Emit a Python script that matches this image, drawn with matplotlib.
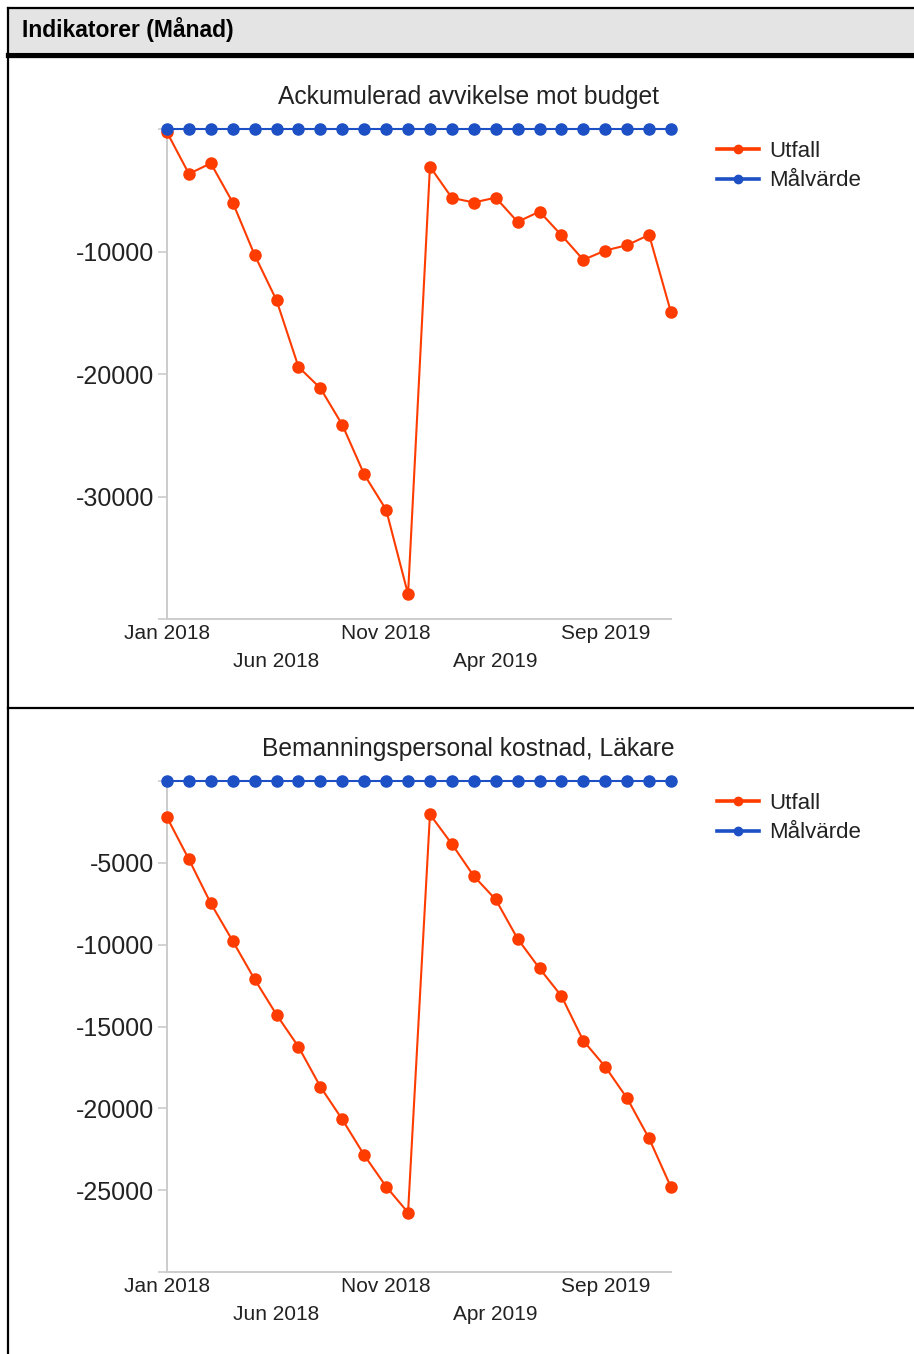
import matplotlib
matplotlib.use('Agg')
import matplotlib.pyplot as plt
from matplotlib.lines import Line2D
from matplotlib.patches import Rectangle

plt.rcParams['font.family'] = ['Liberation Sans', 'DejaVu Sans']

W, H = 914, 1354
RED = '#ff3c00'
BLUE = '#1c50c4'
TEXT = '#222222'
AXIS = '#cccccc'

# months Jan 2018 .. Dec 2019
month_idx = list(range(24))
tick_pos_row1 = [0, 10, 20]
tick_lab_row1 = ['Jan 2018', 'Nov 2018', 'Sep 2019']
tick_pos_row2 = [5, 15]
tick_lab_row2 = ['Jun 2018', 'Apr 2019']

title_budget = 'Ackumulerad avvikelse mot budget'
utfall_budget = [-270, -3660, -2800, -6000, -10290, -13990, -19420, -21160,
                 -24150, -28200, -31080, -37980, -3070, -5620, -6000, -5600,
                 -7580, -6740, -8670, -10680, -9920, -9480, -8640, -14970]
malvarde_budget = [0, 0, 0, 0, 0, 0, 0, 0, 0, 0, 0, 0,
                   0, 0, 0, 0, 0, 0, 0, 0, 0, 0, 0, 0]
yticks_budget = [0, -10000, -20000, -30000, -40000]

title_lakare = 'Bemanningspersonal kostnad, Läkare'
utfall_lakare = [-2220, -4790, -7480, -9780, -12120, -14280, -16240, -18680,
                 -20680, -22860, -24780, -26370, -2040, -3850, -5810, -7240,
                 -9640, -11450, -13140, -15870, -17460, -19390, -21840, -24820]
malvarde_lakare = [0, 0, 0, 0, 0, 0, 0, 0, 0, 0, 0, 0,
                   0, 0, 0, 0, 0, 0, 0, 0, 0, 0, 0, 0]
yticks_lakare = [0, -5000, -10000, -15000, -20000, -25000, -30000]


def fx(px):
    return px / W


def fy(py):
    return 1 - py / H


def draw_chart(fig, top, bottom, title, utfall, malvarde, yticks):
    ax = fig.add_axes([fx(167), fy(bottom), fx(671) - fx(167), fy(top) - fy(bottom)])
    ax.plot(month_idx, utfall, color=RED, lw=1.5, marker='o', ms=8,
            clip_on=False, zorder=3, label='Utfall')
    ax.plot(month_idx, malvarde, color=BLUE, lw=1.5, marker='o', ms=8,
            clip_on=False, zorder=4, label='Målvärde')
    ax.set_xlim(0, 23)
    ax.set_ylim(yticks[-1], 0)

    for s in ['top', 'right']:
        ax.spines[s].set_visible(False)
    for s in ['left', 'bottom']:
        ax.spines[s].set_color(AXIS)
        ax.spines[s].set_linewidth(1.4)

    # first and last y tick carry no label
    ax.set_yticks(yticks)
    ax.set_yticklabels([''] + [str(v) for v in yticks[1:-1]] + [''])
    ax.tick_params(axis='y', length=6.5, width=1.2, color=AXIS, pad=3,
                   labelsize=18, labelcolor=TEXT)

    # staggered month labels in two rows
    ax.set_xticks(tick_pos_row1)
    ax.set_xticklabels(tick_lab_row1)
    ax.set_xticks(tick_pos_row2, minor=True)
    ax.set_xticklabels(tick_lab_row2, minor=True)
    ax.tick_params(axis='x', which='major', length=0, pad=3.5,
                   labelsize=15, labelcolor=TEXT)
    ax.tick_params(axis='x', which='minor', length=0, pad=23.5,
                   labelsize=15, labelcolor=TEXT)

    fig.text(fx(468), fy(top - 32), title, ha='center', va='center',
             fontsize=17.7, color=TEXT)

    handles = [Line2D([], [], color=RED, lw=2.6, marker='o', ms=6),
               Line2D([], [], color=BLUE, lw=2.6, marker='o', ms=6)]
    fig.legend(handles, ['Utfall', 'Målvärde'], loc='upper left',
               bbox_to_anchor=(fx(708), fy(top + 3)), frameon=False,
               fontsize=16, handlelength=1.9, handletextpad=0.45,
               labelspacing=0.38, borderaxespad=0, labelcolor=TEXT)
    return ax


fig = plt.figure(figsize=(W / 100, H / 100), dpi=100)

# header band and frame lines
fig.add_artist(Rectangle((fx(8), fy(52)), 1 - fx(8), fy(8) - fy(52),
                         transform=fig.transFigure, facecolor='#e4e4e4',
                         edgecolor='none'))
fig.add_artist(Line2D([fx(8), 1], [fy(8), fy(8)], color='black', lw=1.6))
fig.add_artist(Line2D([fx(8), 1], [fy(54.5), fy(54.5)], color='black', lw=3.8))
fig.add_artist(Line2D([fx(8), fx(8)], [fy(8), 0], color='black', lw=1.6))
fig.add_artist(Line2D([fx(8), 1], [fy(708), fy(708)], color='black', lw=1.6))
fig.text(fx(22), fy(30), 'Indikatorer (Månad)', ha='left', va='center',
         fontsize=16.5, fontweight='bold', color='black')

draw_chart(fig, 129, 619, title_budget, utfall_budget, malvarde_budget,
           yticks_budget)
draw_chart(fig, 781, 1272, title_lakare, utfall_lakare, malvarde_lakare,
           yticks_lakare)

fig.savefig('out.png', dpi=100)
